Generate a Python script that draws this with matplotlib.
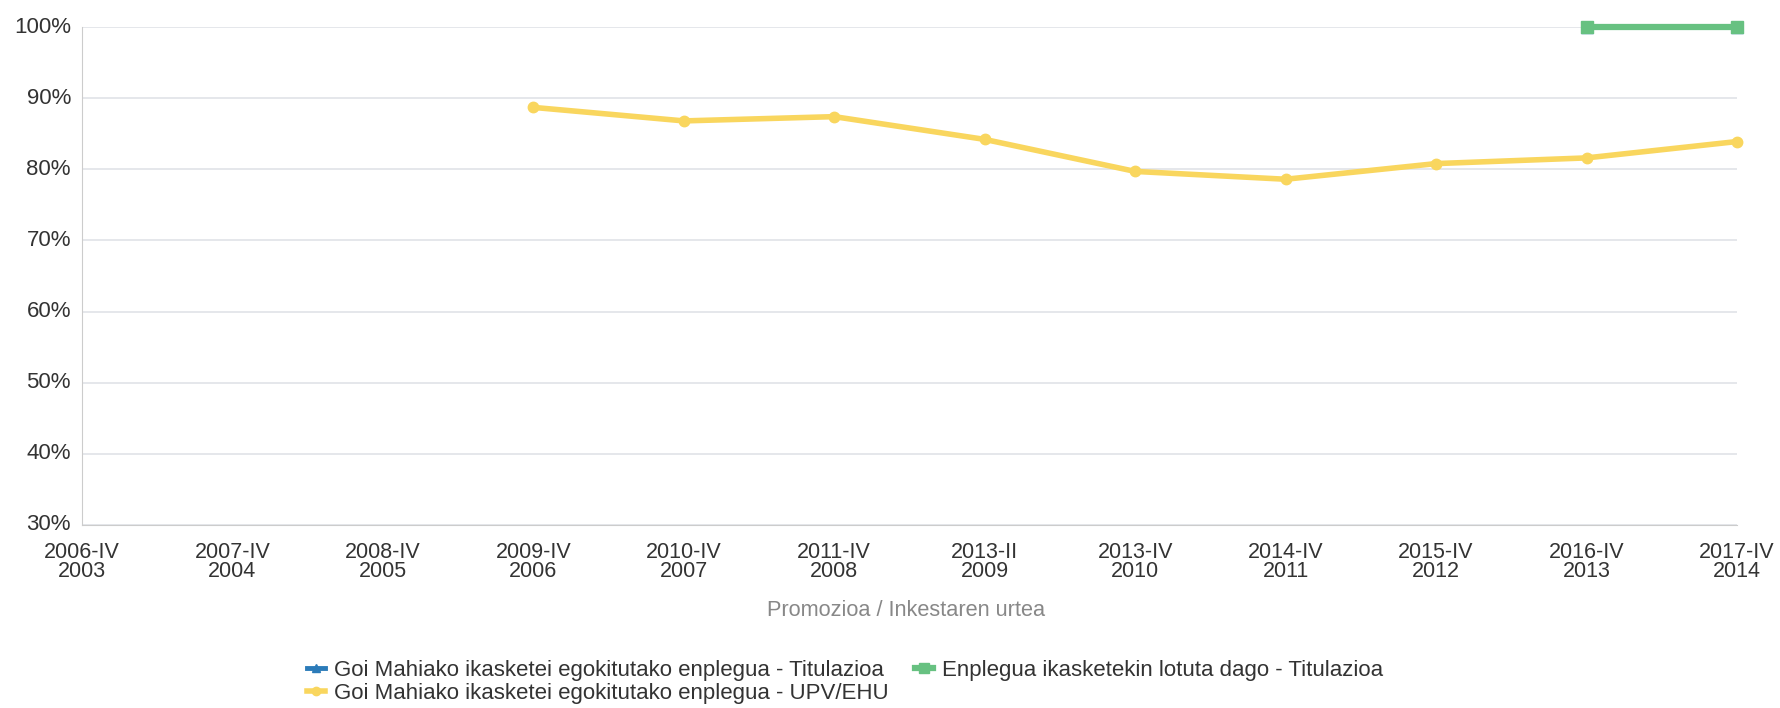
import numpy as np
import matplotlib
matplotlib.use("Agg")
import matplotlib.pyplot as plt

plt.rcParams['font.family'] = ['Liberation Sans', 'DejaVu Sans']

# categories: promotion / survey year
promo = ["2006-IV", "2007-IV", "2008-IV", "2009-IV", "2010-IV", "2011-IV",
         "2013-II", "2013-IV", "2014-IV", "2015-IV", "2016-IV", "2017-IV"]
urtea = ["2003", "2004", "2005", "2006", "2007", "2008",
         "2009", "2010", "2011", "2012", "2013", "2014"]

nan = np.nan
goi_titulazioa = [nan, nan, nan, nan, nan, nan, nan, nan, nan, nan, 100, 100]
lotuta_titulazioa = [nan, nan, nan, nan, nan, nan, nan, nan, nan, nan, 100, 100]
goi_upv = [nan, nan, nan, 88.7, 86.8, 87.4, 84.2, 79.7, 78.6, 80.8, 81.6, 83.9]

y_ticks = [30, 40, 50, 60, 70, 80, 90, 100]

fig = plt.figure(figsize=(17.81, 7.08), dpi=100)
ax = fig.add_axes([82 / 1781, 1 - 525 / 708, (1737 - 82) / 1781, (525 - 27) / 708])

x = np.arange(len(promo))
l_blue, = ax.plot(x, goi_titulazioa, color="#2b7bb9", lw=3.5, marker="^",
                  markersize=8, zorder=3, clip_on=False)
l_yel, = ax.plot(x, goi_upv, color="#f9d65e", lw=4, marker="o",
                 markersize=7.5, zorder=4, clip_on=False)
l_green, = ax.plot(x, lotuta_titulazioa, color="#67c181", lw=4.5, marker="s",
                   markersize=9, zorder=5, clip_on=False)

ax.set_xlim(0, len(promo) - 1)
ax.set_ylim(30, 100)
ax.set_yticks(y_ticks)
ax.set_yticklabels([f"{v}%" for v in y_ticks])
ax.set_xticks(x)
ax.set_xticklabels([f"{p}\n{u}" for p, u in zip(promo, urtea)], linespacing=0.9)

ax.grid(axis="y", color="#e0e3e8", lw=1.2)
ax.set_axisbelow(True)
for s in ["top", "right"]:
    ax.spines[s].set_visible(False)
ax.spines["left"].set_color("#cccccc")
ax.spines["bottom"].set_color("#cccccc")
ax.tick_params(axis="y", length=0, labelsize=16, colors="#333333", pad=8)
ax.tick_params(axis="x", length=0, labelsize=15.5, colors="#333333", pad=12)
for lab in ax.get_yticklabels():
    lab.set_verticalalignment("center")

fig.text(906 / 1781, 1 - 610 / 708, "Promozioa / Inkestaren urtea",
         ha="center", va="center", fontsize=15.7, color="#888888")

fig.legend([l_blue, l_yel, l_green],
           ["Goi Mahiako ikasketei egokitutako enplegua - Titulazioa",
            "Goi Mahiako ikasketei egokitutako enplegua - UPV/EHU",
            "Enplegua ikasketekin lotuta dago - Titulazioa"],
           ncol=2, loc="center", bbox_to_anchor=(845 / 1781, 1 - 682 / 708),
           frameon=False, fontsize=16, handlelength=0.8, handletextpad=0.4,
           columnspacing=1.2, labelspacing=0.1, markerscale=0.8,
           labelcolor="#333333")

fig.savefig("out.png", dpi=100)
